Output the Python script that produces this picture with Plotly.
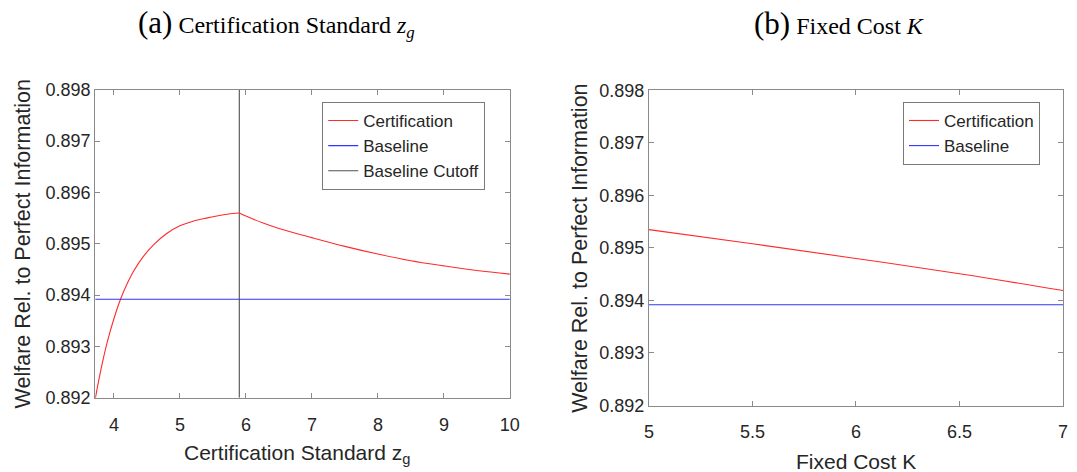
import plotly.graph_objects as go

# Panel (a): welfare vs certification standard z_g
z_rise = [3.72, 3.80, 3.90, 4.00, 4.10, 4.20, 4.30, 4.45, 4.60, 4.80, 5.00,
          5.20, 5.40, 5.60, 5.80, 5.90]
w_rise = [0.89200, 0.89253, 0.89309, 0.89354, 0.89392, 0.89422, 0.89447, 0.89476,
          0.89498, 0.89520, 0.89535, 0.89544, 0.89550, 0.89555, 0.89559, 0.89560]
z_fall = [5.90, 6.00, 6.25, 6.50, 7.00, 7.50, 8.00, 8.50, 9.00, 9.50, 10.00]
w_fall = [0.89560, 0.89554, 0.89541, 0.89530, 0.89512, 0.89495, 0.89480, 0.89467,
          0.89457, 0.89448, 0.89441]
z_range = [3.717, 10.0]
baseline_welfare = 0.89392
baseline_cutoff = 5.90

# Panel (b): welfare vs fixed cost K
fixed_cost = [5.0, 5.5, 6.0, 6.5, 7.0]
w_cost = [0.89535, 0.89508, 0.89480, 0.89451, 0.89419]
k_ticks = [5, 5.5, 6, 6.5, 7]
k_tick_labels = ["5", "5.5", "6", "6.5", "7"]

y_range = [0.892, 0.898]
y_ticks = [0.892, 0.893, 0.894, 0.895, 0.896, 0.897, 0.898]
z_ticks = [4, 5, 6, 7, 8, 9, 10]

W, H = 1077, 472
RED, BLUE, CUT = "#ff2a2a", "#3333ff", "#505050"
AX, TXT = "#8a8a8a", "#262626"
SANS = "Liberation Sans, Arial, sans-serif"
SERIF = "Liberation Serif, Times New Roman, serif"


def px_x(p):
    return p / W


def px_y(p):
    return 1 - p / H


fig = go.Figure()

# left panel traces
fig.add_trace(go.Scatter(x=z_rise, y=w_rise, mode="lines", name="Certification",
                         line=dict(color=RED, width=1.1, shape="spline"),
                         legend="legend", xaxis="x", yaxis="y"))
fig.add_trace(go.Scatter(x=z_range, y=[baseline_welfare, baseline_welfare], mode="lines",
                         name="Baseline", line=dict(color=BLUE, width=1.1),
                         legend="legend", xaxis="x", yaxis="y"))
fig.add_trace(go.Scatter(x=[baseline_cutoff, baseline_cutoff], y=y_range, mode="lines",
                         name="Baseline Cutoff", line=dict(color=CUT, width=1.1),
                         legend="legend", xaxis="x", yaxis="y"))

# right panel traces
fig.add_trace(go.Scatter(x=fixed_cost, y=w_cost, mode="lines", name="Certification",
                         line=dict(color=RED, width=1.1, shape="spline"),
                         legend="legend2", xaxis="x2", yaxis="y2"))
fig.add_trace(go.Scatter(x=[fixed_cost[0], fixed_cost[-1]],
                         y=[baseline_welfare, baseline_welfare], mode="lines",
                         name="Baseline", line=dict(color=BLUE, width=1.1),
                         legend="legend2", xaxis="x2", yaxis="y2"))

# falling branch of the left certification curve, drawn separately to keep the kink
fig.add_trace(go.Scatter(x=z_fall, y=w_fall, mode="lines", name="Certification",
                         line=dict(color=RED, width=1.1, shape="spline"),
                         showlegend=False, xaxis="x", yaxis="y"))

axis_common = dict(showline=True, linecolor=AX, linewidth=1, mirror="ticks",
                   ticks="inside", ticklen=5, tickcolor=AX, tickwidth=1,
                   showgrid=False, zeroline=False,
                   tickfont=dict(family=SANS, size=18, color=TXT))

legend_common = dict(bgcolor="white", bordercolor="#7a7a7a", borderwidth=1,
                     font=dict(family=SANS, size=17, color=TXT),
                     xanchor="left", yanchor="top", traceorder="normal")

fig.update_layout(
    width=W, height=H,
    margin=dict(l=0, r=0, t=0, b=0),
    paper_bgcolor="white", plot_bgcolor="white",
    showlegend=True,
    xaxis=dict(domain=[px_x(91.5), px_x(512)], range=z_range, tickvals=z_ticks,
               anchor="y", ticklabelstandoff=11, **axis_common),
    yaxis=dict(domain=[px_y(405), px_y(83.3)], range=y_range, tickvals=y_ticks,
               tickformat=".3f", anchor="x", **axis_common),
    xaxis2=dict(domain=[px_x(653), px_x(1073)], range=[5, 7], tickvals=k_ticks,
                ticktext=k_tick_labels, anchor="y2", ticklabelstandoff=10,
                **axis_common),
    yaxis2=dict(domain=[px_y(413), px_y(84)], range=y_range, tickvals=y_ticks,
                tickformat=".3f", anchor="x2", **axis_common),
    legend=dict(x=px_x(321.7), y=px_y(96), **legend_common),
    legend2=dict(x=px_x(910.7), y=px_y(96), **legend_common),
)

annotations = [
    # panel captions
    dict(text='<span style="font-size:31px">(a)</span> Certification Standard <i>z<sub>g</sub></i>',
         x=px_x(275.5), y=px_y(14), xanchor="center", yanchor="middle",
         font=dict(family=SERIF, size=24, color="black")),
    dict(text='<span style="font-size:31px">(b)</span> Fixed Cost <i>K</i>',
         x=px_x(846), y=px_y(14), xanchor="center", yanchor="middle",
         font=dict(family=SERIF, size=24, color="black")),
    # axis titles
    dict(text="Certification Standard z<sub>g</sub>", x=px_x(296), y=px_y(464),
         xanchor="center", yanchor="middle",
         font=dict(family=SANS, size=21, color=TXT)),
    dict(text="Fixed Cost K", x=px_x(863), y=px_y(471),
         xanchor="center", yanchor="middle",
         font=dict(family=SANS, size=21, color=TXT)),
    dict(text="Welfare Rel. to Perfect Information", x=px_x(18), y=px_y(244),
         textangle=-90, xanchor="center", yanchor="middle",
         font=dict(family=SANS, size=21.5, color=TXT)),
    dict(text="Welfare Rel. to Perfect Information", x=px_x(583), y=px_y(248.5),
         textangle=-90, xanchor="center", yanchor="middle",
         font=dict(family=SANS, size=21.5, color=TXT)),
]
for a in annotations:
    a.update(xref="paper", yref="paper", showarrow=False)
fig.update_layout(annotations=annotations)

fig.write_html("out.html")
